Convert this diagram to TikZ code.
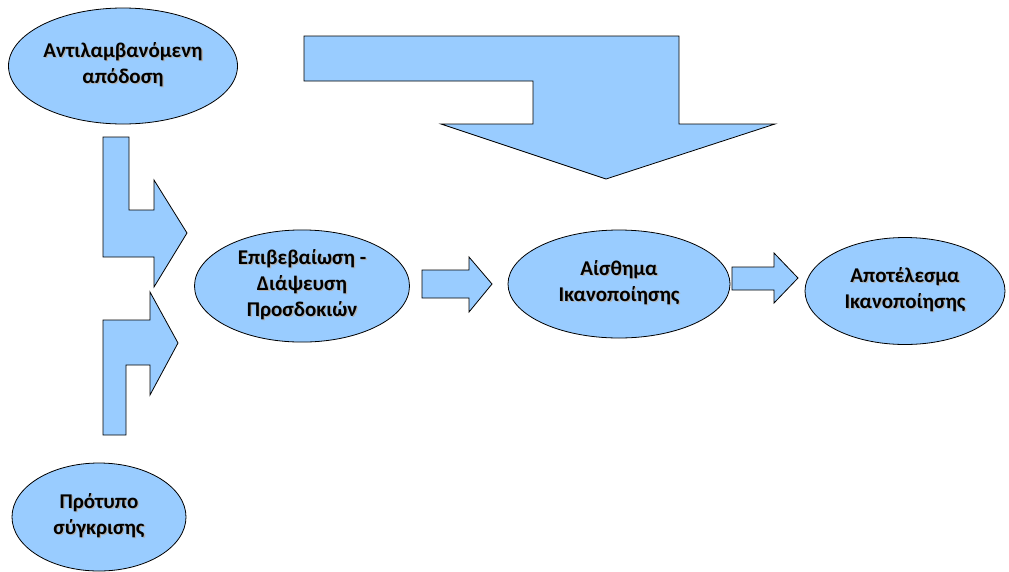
\documentclass[tikz,border=0pt]{standalone}
\usepackage{fontspec}
\setmainfont{Carlito}
\usetikzlibrary{shapes.geometric}

\definecolor{boxblue}{HTML}{99CCFF}

% centred multi-line text with a soft grey drop shadow behind it
\newcommand\LineStack[1]{\begin{tabular}{@{}c@{}}#1\end{tabular}}
\newcommand\ShadowText[1]{\leavevmode\rlap{\kern1.3pt\raisebox{-1.3pt}{\color{black!30}\LineStack{#1}}}\LineStack{#1}}

\tikzset{
  bubble/.style={ellipse, draw=black, line width=0.8pt, fill=boxblue,
    inner sep=0pt, font=\fontsize{21}{26}\selectfont\bfseries},
  blockarrow/.style={draw=black, line width=0.8pt, fill=boxblue, line join=miter},
}

\begin{document}
\begin{tikzpicture}[x=1pt, y=-1pt]
\useasboundingbox (0,0) rectangle (1009,571);

% ellipses
\node[bubble, minimum width=229pt, minimum height=116pt] (perf) at (123,66)
  {\ShadowText{Αντιλαμβανόμενη\\απόδοση}};
\node[bubble, minimum width=215pt, minimum height=108pt] (confirm) at (302,286)
  {\ShadowText{Επιβεβαίωση -\\Διάψευση\\Προσδοκιών}};
\node[bubble, minimum width=222pt, minimum height=108pt] (feel) at (619,284)
  {\ShadowText{Αίσθημα\\Ικανοποίησης}};
\node[bubble, minimum width=200pt, minimum height=107pt] (result) at (905,291)
  {\ShadowText{Αποτέλεσμα\\Ικανοποίησης}};
\node[bubble, minimum width=174pt, minimum height=108pt] (norm) at (99,517)
  {\ShadowText{Πρότυπο\\σύγκρισης}};

% large bent arrow across the top, pointing down onto the middle
\draw[blockarrow] (304,36) -- (679,36) -- (679,124) -- (775,124) -- (606,179)
  -- (441,124) -- (533,124) -- (533,81) -- (304,81) -- cycle;

% bent arrow from the upper-left ellipse
\draw[blockarrow] (103,137) -- (129,137) -- (129,210) -- (154,210) -- (154,180)
  -- (187,233) -- (154,287) -- (154,257) -- (103,257) -- cycle;

% bent arrow from the lower-left ellipse
\draw[blockarrow] (103,435) -- (126,435) -- (126,365) -- (150,365) -- (150,395)
  -- (178,343) -- (150,292) -- (150,320) -- (103,320) -- cycle;

% straight arrows between the ellipses of the middle row
\draw[blockarrow] (422,270) -- (469,270) -- (469,257) -- (492,284) -- (469,312)
  -- (469,298) -- (422,298) -- cycle;
\draw[blockarrow] (732,267) -- (774,267) -- (774,253) -- (798,278) -- (774,303)
  -- (774,290) -- (732,290) -- cycle;
\end{tikzpicture}
\end{document}
